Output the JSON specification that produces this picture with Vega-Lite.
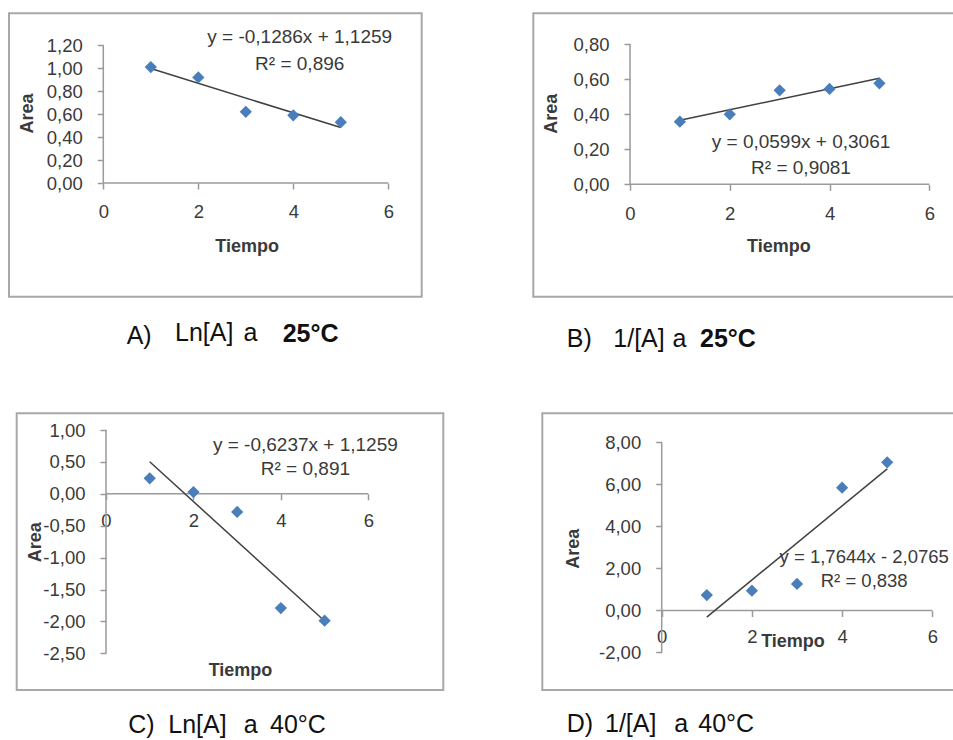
{
  "$schema": "https://vega.github.io/schema/vega-lite/v6.json",
  "width": 953,
  "height": 740,
  "autosize": {"type": "none"},
  "padding": 0,
  "background": "white",
  "config": {
    "view": {"stroke": null},
    "locale": {"number": {"decimal": ",", "thousands": ".", "grouping": [3], "currency": ["", ""], "minus": "-"}},
    "axis": {"grid": false, "domain": false, "tickColor": "#9a9a9a", "tickSize": 6, "tickWidth": 1.5, "labelFont": "Liberation Sans", "labelFontSize": 18.5, "labelColor": "#3a3a3a", "labelOverlap": false, "labelFlush": false, "titleFont": "Liberation Sans", "titleFontSize": 18, "titleFontWeight": "bold", "titleColor": "#3a3a3a"},
    "text": {"font": "Liberation Sans"}
  },
  "data": {"values": [
    {"p": "A", "k": "border", "x": -1.9853, "y": -0.9908, "x2": 6.7032, "y2": 1.4789},
    {"p": "A", "k": "axis", "x": 0, "y": 0, "x2": 0, "y2": 1.2},
    {"p": "A", "k": "axis", "x": 0, "y": 0, "x2": 6, "y2": 0},
    {"p": "A", "k": "pt", "x": 1, "y": 1.01},
    {"p": "A", "k": "pt", "x": 2, "y": 0.92},
    {"p": "A", "k": "pt", "x": 3, "y": 0.62},
    {"p": "A", "k": "pt", "x": 4, "y": 0.59},
    {"p": "A", "k": "pt", "x": 5, "y": 0.53},
    {"p": "A", "k": "trend", "x": 1, "y": 0.9973},
    {"p": "A", "k": "trend", "x": 5, "y": 0.4829},
    {"p": "A", "k": "eq", "x": 4.135, "y": 1.2723, "t": "y = -0,1286x + 1,1259"},
    {"p": "A", "k": "eq", "x": 4.135, "y": 1.037, "t": "R² = 0,896"},
    {"p": "A", "k": "cap", "x": 0.4926, "y": -1.4031, "t": "A)"},
    {"p": "A", "k": "cap", "x": 1.5095, "y": -1.3769, "t": "Ln[A]"},
    {"p": "A", "k": "cap", "x": 2.95, "y": -1.3769, "t": "a"},
    {"p": "A", "k": "capb", "x": 3.7768, "y": -1.3856, "t": "25°C"},

    {"p": "B", "k": "border", "x": -1.9387, "y": -0.6423, "x2": 6.6, "y2": 0.9771},
    {"p": "B", "k": "axis", "x": 0, "y": 0, "x2": 0, "y2": 0.8},
    {"p": "B", "k": "axis", "x": 0, "y": 0, "x2": 6, "y2": 0},
    {"p": "B", "k": "pt", "x": 1, "y": 0.358},
    {"p": "B", "k": "pt", "x": 2, "y": 0.40},
    {"p": "B", "k": "pt", "x": 3, "y": 0.537},
    {"p": "B", "k": "pt", "x": 4, "y": 0.545},
    {"p": "B", "k": "pt", "x": 5, "y": 0.577},
    {"p": "B", "k": "trend", "x": 1, "y": 0.366},
    {"p": "B", "k": "trend", "x": 5, "y": 0.6056},
    {"p": "B", "k": "eq", "x": 3.4282, "y": 0.2434, "t": "y = 0,0599x + 0,3061"},
    {"p": "B", "k": "eq", "x": 3.4282, "y": 0.0914, "t": "R² = 0,9081"},
    {"p": "B", "k": "cap", "x": -1.269, "y": -0.9297, "t": "B)"},
    {"p": "B", "k": "cap", "x": -0.3348, "y": -0.9297, "t": "1/[A]"},
    {"p": "B", "k": "cap", "x": 0.85, "y": -0.9297, "t": "a"},
    {"p": "B", "k": "capb", "x": 1.4034, "y": -0.9297, "t": "25°C"},

    {"p": "C", "k": "border", "x": -2.0426, "y": -3.0752, "x2": 7.715, "y2": 1.2618},
    {"p": "C", "k": "axis", "x": 0, "y": -2.5, "x2": 0, "y2": 1},
    {"p": "C", "k": "axis", "x": 0, "y": 0, "x2": 6, "y2": 0},
    {"p": "C", "k": "pt", "x": 1, "y": 0.243},
    {"p": "C", "k": "pt", "x": 2, "y": 0.028},
    {"p": "C", "k": "pt", "x": 3, "y": -0.285},
    {"p": "C", "k": "pt", "x": 4, "y": -1.79},
    {"p": "C", "k": "pt", "x": 5, "y": -1.989},
    {"p": "C", "k": "trend", "x": 1, "y": 0.5022},
    {"p": "C", "k": "trend", "x": 5, "y": -1.9926},
    {"p": "C", "k": "eq", "x": 4.5608, "y": 0.7649, "t": "y = -0,6237x + 1,1259"},
    {"p": "C", "k": "eq", "x": 4.5608, "y": 0.3887, "t": "R² = 0,891"},
    {"p": "C", "k": "cap", "x": 0.5101, "y": -3.7492, "t": "C)"},
    {"p": "C", "k": "cap", "x": 1.425, "y": -3.7492, "t": "Ln[A]"},
    {"p": "C", "k": "cap", "x": 3.15, "y": -3.7492, "t": "a"},
    {"p": "C", "k": "cap", "x": 3.7511, "y": -3.7492, "t": "40°C"},

    {"p": "D", "k": "border", "x": -2.6475, "y": -3.7857, "x2": 6.5, "y2": 9.3905},
    {"p": "D", "k": "axis", "x": 0, "y": -2, "x2": 0, "y2": 8},
    {"p": "D", "k": "axis", "x": 0, "y": 0, "x2": 6, "y2": 0},
    {"p": "D", "k": "pt", "x": 1, "y": 0.738},
    {"p": "D", "k": "pt", "x": 2, "y": 0.943},
    {"p": "D", "k": "pt", "x": 3, "y": 1.262},
    {"p": "D", "k": "pt", "x": 4, "y": 5.848},
    {"p": "D", "k": "pt", "x": 5, "y": 7.057},
    {"p": "D", "k": "trend", "x": 1, "y": -0.3121},
    {"p": "D", "k": "trend", "x": 5, "y": 6.7455},
    {"p": "D", "k": "eq", "x": 4.49, "y": 2.5333, "t": "y = 1,7644x - 2,0765"},
    {"p": "D", "k": "eq", "x": 4.49, "y": 1.419, "t": "R² = 0,838"},
    {"p": "D", "k": "cap", "x": -2.1064, "y": -5.7857, "t": "D)"},
    {"p": "D", "k": "cap", "x": -1.2572, "y": -5.7857, "t": "1/[A]"},
    {"p": "D", "k": "cap", "x": 0.28, "y": -5.7857, "t": "a"},
    {"p": "D", "k": "cap", "x": 0.8115, "y": -5.7857, "t": "40°C"}
  ]},
  "resolve": {"scale": {"x": "independent", "y": "independent"}, "axis": {"x": "independent", "y": "independent"}},
  "layer": [
    {
      "transform": [{"filter": "datum.p === 'A'"}],
      "encoding": {
        "x": {"field": "x", "type": "quantitative", "scale": {"domain": [-2.1747, 17.8884], "nice": false, "zero": false},
              "axis": {"orient": "bottom", "offset": -557, "values": [0, 2, 4, 6], "format": "d", "labelBaseline": "middle", "labelPadding": 22.7, "title": "Tiempo", "titleX": 246.7, "titleY": 63.7, "titleBaseline": "middle", "titleAlign": "center"}},
        "y": {"field": "y", "type": "quantitative", "scale": {"domain": [-4.854, 1.5948], "nice": false, "zero": false},
              "axis": {"orient": "left", "offset": -103.3, "values": [0, 0.2, 0.4, 0.6, 0.8, 1, 1.2], "format": ".2f", "labelPadding": 15, "title": "Area", "titleX": -76.3, "titleY": 113, "titleBaseline": "middle", "titleAlign": "center", "titleAngle": 270}}
      },
      "layer": [
        {"transform": [{"filter": "datum.k === 'border'"}], "mark": {"type": "rect", "filled": false, "stroke": "#a8a8a8", "strokeWidth": 2}, "encoding": {"x2": {"field": "x2"}, "y2": {"field": "y2"}}},
        {"transform": [{"filter": "datum.k === 'axis'"}], "mark": {"type": "rule", "color": "#9a9a9a", "strokeWidth": 1.5}, "encoding": {"x2": {"field": "x2"}, "y2": {"field": "y2"}}},
        {"transform": [{"filter": "datum.k === 'trend'"}], "mark": {"type": "line", "color": "#404040", "strokeWidth": 1.5}},
        {"transform": [{"filter": "datum.k === 'pt'"}], "mark": {"type": "point", "shape": "diamond", "filled": true, "size": 150, "color": "#4a7ebb", "opacity": 1}},
        {"transform": [{"filter": "datum.k === 'eq'"}], "mark": {"type": "text", "fontSize": 19, "color": "#3a3a3a", "align": "center", "baseline": "middle"}, "encoding": {"text": {"field": "t"}}},
        {"transform": [{"filter": "datum.k === 'cap'"}], "mark": {"type": "text", "fontSize": 25, "color": "#111111", "align": "left", "baseline": "alphabetic"}, "encoding": {"text": {"field": "t"}}},
        {"transform": [{"filter": "datum.k === 'capb'"}], "mark": {"type": "text", "fontSize": 25, "fontWeight": "bold", "color": "#111111", "align": "left", "baseline": "alphabetic"}, "encoding": {"text": {"field": "t"}}}
      ]
    },
    {
      "transform": [{"filter": "datum.p === 'B'"}],
      "encoding": {
        "x": {"field": "x", "type": "quantitative", "scale": {"domain": [-12.6303, 6.4756], "nice": false, "zero": false},
              "axis": {"orient": "bottom", "offset": -555.7, "values": [0, 2, 4, 6], "format": "d", "labelBaseline": "middle", "labelPadding": 23, "title": "Tiempo", "titleX": 778.3, "titleY": 62.4, "titleBaseline": "middle", "titleAlign": "center"}},
        "y": {"field": "y", "type": "quantitative", "scale": {"domain": [-3.1754, 1.0531], "nice": false, "zero": false},
              "axis": {"orient": "left", "offset": -630, "values": [0, 0.2, 0.4, 0.6, 0.8], "format": ".2f", "labelPadding": 15, "title": "Area", "titleX": -78.3, "titleY": 113.3, "titleBaseline": "middle", "titleAlign": "center", "titleAngle": 270}}
      },
      "layer": [
        {"transform": [{"filter": "datum.k === 'border'"}], "mark": {"type": "rect", "filled": false, "stroke": "#a8a8a8", "strokeWidth": 2}, "encoding": {"x2": {"field": "x2"}, "y2": {"field": "y2"}}},
        {"transform": [{"filter": "datum.k === 'axis'"}], "mark": {"type": "rule", "color": "#9a9a9a", "strokeWidth": 1.5}, "encoding": {"x2": {"field": "x2"}, "y2": {"field": "y2"}}},
        {"transform": [{"filter": "datum.k === 'trend'"}], "mark": {"type": "line", "color": "#404040", "strokeWidth": 1.5}},
        {"transform": [{"filter": "datum.k === 'pt'"}], "mark": {"type": "point", "shape": "diamond", "filled": true, "size": 150, "color": "#4a7ebb", "opacity": 1}},
        {"transform": [{"filter": "datum.k === 'eq'"}], "mark": {"type": "text", "fontSize": 19, "color": "#3a3a3a", "align": "center", "baseline": "middle"}, "encoding": {"text": {"field": "t"}}},
        {"transform": [{"filter": "datum.k === 'cap'"}], "mark": {"type": "text", "fontSize": 25, "color": "#111111", "align": "left", "baseline": "alphabetic"}, "encoding": {"text": {"field": "t"}}},
        {"transform": [{"filter": "datum.k === 'capb'"}], "mark": {"type": "text", "fontSize": 25, "fontWeight": "bold", "color": "#111111", "align": "left", "baseline": "alphabetic"}, "encoding": {"text": {"field": "t"}}}
      ]
    },
    {
      "transform": [{"filter": "datum.p === 'C'"}],
      "encoding": {
        "x": {"field": "x", "type": "quantitative", "scale": {"domain": [-2.4245, 19.3733], "nice": false, "zero": false},
              "axis": {"orient": "bottom", "offset": -246.2, "values": [0, 2, 4, 6], "format": "d", "labelBaseline": "middle", "labelPadding": 20.2, "title": "Tiempo", "titleX": 240, "titleY": 176.2, "titleBaseline": "middle", "titleAlign": "center"}},
        "y": {"field": "y", "type": "quantitative", "scale": {"domain": [-3.8589, 7.7398], "nice": false, "zero": false},
              "axis": {"orient": "left", "offset": -106, "values": [-2.5, -2, -1.5, -1, -0.5, 0, 0.5, 1], "format": ".2f", "labelPadding": 15, "title": "Area", "titleX": -71, "titleY": 541.7, "titleBaseline": "middle", "titleAlign": "center", "titleAngle": 270}}
      },
      "layer": [
        {"transform": [{"filter": "datum.k === 'border'"}], "mark": {"type": "rect", "filled": false, "stroke": "#a8a8a8", "strokeWidth": 2}, "encoding": {"x2": {"field": "x2"}, "y2": {"field": "y2"}}},
        {"transform": [{"filter": "datum.k === 'axis'"}], "mark": {"type": "rule", "color": "#9a9a9a", "strokeWidth": 1.5}, "encoding": {"x2": {"field": "x2"}, "y2": {"field": "y2"}}},
        {"transform": [{"filter": "datum.k === 'trend'"}], "mark": {"type": "line", "color": "#404040", "strokeWidth": 1.5}},
        {"transform": [{"filter": "datum.k === 'pt'"}], "mark": {"type": "point", "shape": "diamond", "filled": true, "size": 150, "color": "#4a7ebb", "opacity": 1}},
        {"transform": [{"filter": "datum.k === 'eq'"}], "mark": {"type": "text", "fontSize": 19, "color": "#3a3a3a", "align": "center", "baseline": "middle"}, "encoding": {"text": {"field": "t"}}},
        {"transform": [{"filter": "datum.k === 'cap'"}], "mark": {"type": "text", "fontSize": 25, "color": "#111111", "align": "left", "baseline": "alphabetic"}, "encoding": {"text": {"field": "t"}}}
      ]
    },
    {
      "transform": [{"filter": "datum.p === 'D'"}],
      "encoding": {
        "x": {"field": "x", "type": "quantitative", "scale": {"domain": [-14.6718, 6.459], "nice": false, "zero": false},
              "axis": {"orient": "bottom", "offset": -129.5, "values": [0, 2, 4, 6], "format": "d", "labelBaseline": "middle", "labelPadding": 20.2, "title": "Tiempo", "titleX": 792.5, "titleY": 31.2, "titleBaseline": "middle", "titleAlign": "center"}},
        "y": {"field": "y", "type": "quantitative", "scale": {"domain": [-6.1667, 29.0714], "nice": false, "zero": false},
              "axis": {"orient": "left", "offset": -661.7, "values": [-2, 0, 2, 4, 6, 8], "format": ".2f", "labelPadding": 15, "title": "Area", "titleX": -88.4, "titleY": 548.3, "titleBaseline": "middle", "titleAlign": "center", "titleAngle": 270}}
      },
      "layer": [
        {"transform": [{"filter": "datum.k === 'border'"}], "mark": {"type": "rect", "filled": false, "stroke": "#a8a8a8", "strokeWidth": 2}, "encoding": {"x2": {"field": "x2"}, "y2": {"field": "y2"}}},
        {"transform": [{"filter": "datum.k === 'axis'"}], "mark": {"type": "rule", "color": "#9a9a9a", "strokeWidth": 1.5}, "encoding": {"x2": {"field": "x2"}, "y2": {"field": "y2"}}},
        {"transform": [{"filter": "datum.k === 'trend'"}], "mark": {"type": "line", "color": "#404040", "strokeWidth": 1.5}},
        {"transform": [{"filter": "datum.k === 'pt'"}], "mark": {"type": "point", "shape": "diamond", "filled": true, "size": 150, "color": "#4a7ebb", "opacity": 1}},
        {"transform": [{"filter": "datum.k === 'eq'"}], "mark": {"type": "text", "fontSize": 18.5, "color": "#3a3a3a", "align": "center", "baseline": "middle"}, "encoding": {"text": {"field": "t"}}},
        {"transform": [{"filter": "datum.k === 'cap'"}], "mark": {"type": "text", "fontSize": 25, "color": "#111111", "align": "left", "baseline": "alphabetic"}, "encoding": {"text": {"field": "t"}}}
      ]
    }
  ]
}
